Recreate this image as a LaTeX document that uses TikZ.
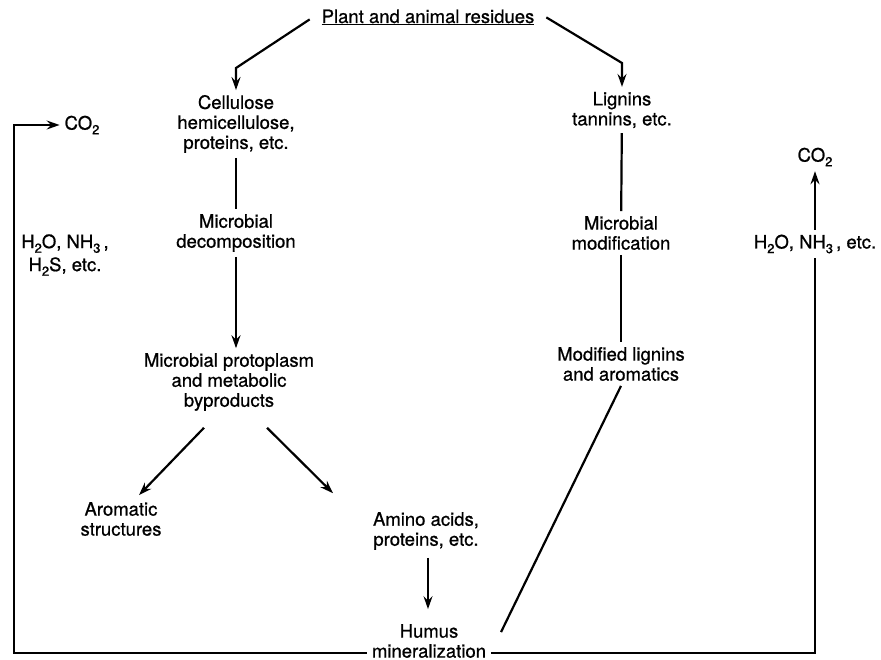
\documentclass[tikz,border=0pt]{standalone}
\usepackage{fontspec}
\setmainfont{TeX Gyre Heros}[FakeBold=0.8]
\usetikzlibrary{arrows.meta,calc}
\newcommand\figfont{\fontsize{18.5}{20}\selectfont}
\newcommand\chemsub[1]{\raisebox{-0.25em}{\fontsize{13}{13}\selectfont #1}}
\begin{document}
\begin{tikzpicture}[x=1pt,y=-1pt,
  lbl/.style={align=center, inner sep=0pt, outer sep=5pt, font=\figfont},
  ln/.style={line width=2.2pt},
  arr/.style={ln, -{Stealth[length=13pt,width=9pt,inset=4.5pt]}}]
\useasboundingbox (0,0) rectangle (881,660);
% nodes
\node[lbl, anchor=base] (plant) at (428,23) {\underline{Plant and animal residues}};
\node[lbl] (cell) at (236,124) {Cellulose\\hemicellulose,\\proteins, etc.};
\node[lbl] (decomp) at (236,233) {Microbial\\decomposition};
\node[lbl] (proto) at (229,382) {Microbial protoplasm\\and metabolic\\byproducts};
\node[lbl] (arom) at (121,519) {Aromatic\\structures};
\node[lbl] (amino) at (426,531) {Amino acids,\\proteins, etc.};
\node[lbl] (humus) at (429,641) {Humus\\mineralization};
\node[lbl] (lign) at (622,110) {Lignins\\tannins, etc.};
\node[lbl] (modif) at (621,233) {Microbial\\modification};
\node[lbl] (modlig) at (621,364) {Modified lignins\\and aromatics};
\node[lbl] (co2l) at (82,125) {CO\chemsub{2}};
\node[lbl, font=\fontsize{18.5}{23}\selectfont] (h2ol) at (65,255) {H\chemsub{2}O, NH\chemsub{3}\,,\\H\chemsub{2}S, etc.};
\node[lbl] (co2r) at (815,157) {CO\chemsub{2}};
\node[lbl] (h2or) at (815,244) {H\chemsub{2}O, NH\chemsub{3}\,, etc.};
\coordinate (bendL) at (236,68);
\coordinate (bendR) at (622,63);
% connectors
\draw[arr] ([shift={(-7,2)}]plant.west) -- (bendL) -- (cell.north);
\draw[arr] ([shift={(7,0)}]plant.east) -- (bendR) -- (lign.north);
\draw[ln] (cell) -- (decomp);
\draw[arr] (decomp.south) -- (decomp.south |- proto.north);
\draw[arr] ([shift={(-25,12)}]proto.south) -- ([shift={(18,-2)}]arom.north);
\draw[arr] ([shift={(38,12)}]proto.south) -- ([shift={(-93,-14)}]amino.north);
\draw[arr, shorten <=3pt, shorten >=10pt] ([xshift=2pt]amino.south) -- ([xshift=2pt]amino.south |- humus.north);
\draw[ln] (lign) -- (modif);
\draw[ln] (modif) -- (modlig);
\draw[ln] (modlig.south) -- ([shift={(10,13)}]humus.north east);
\draw[arr] ([yshift=-12pt]humus.west) -| ([xshift=-46pt]co2l.west) -- (co2l.west);
\draw[ln] ([yshift=-12pt]humus.east) -| (h2or.south);
\draw[arr] (h2or.north) -- (co2r.south);
\end{tikzpicture}
\end{document}
